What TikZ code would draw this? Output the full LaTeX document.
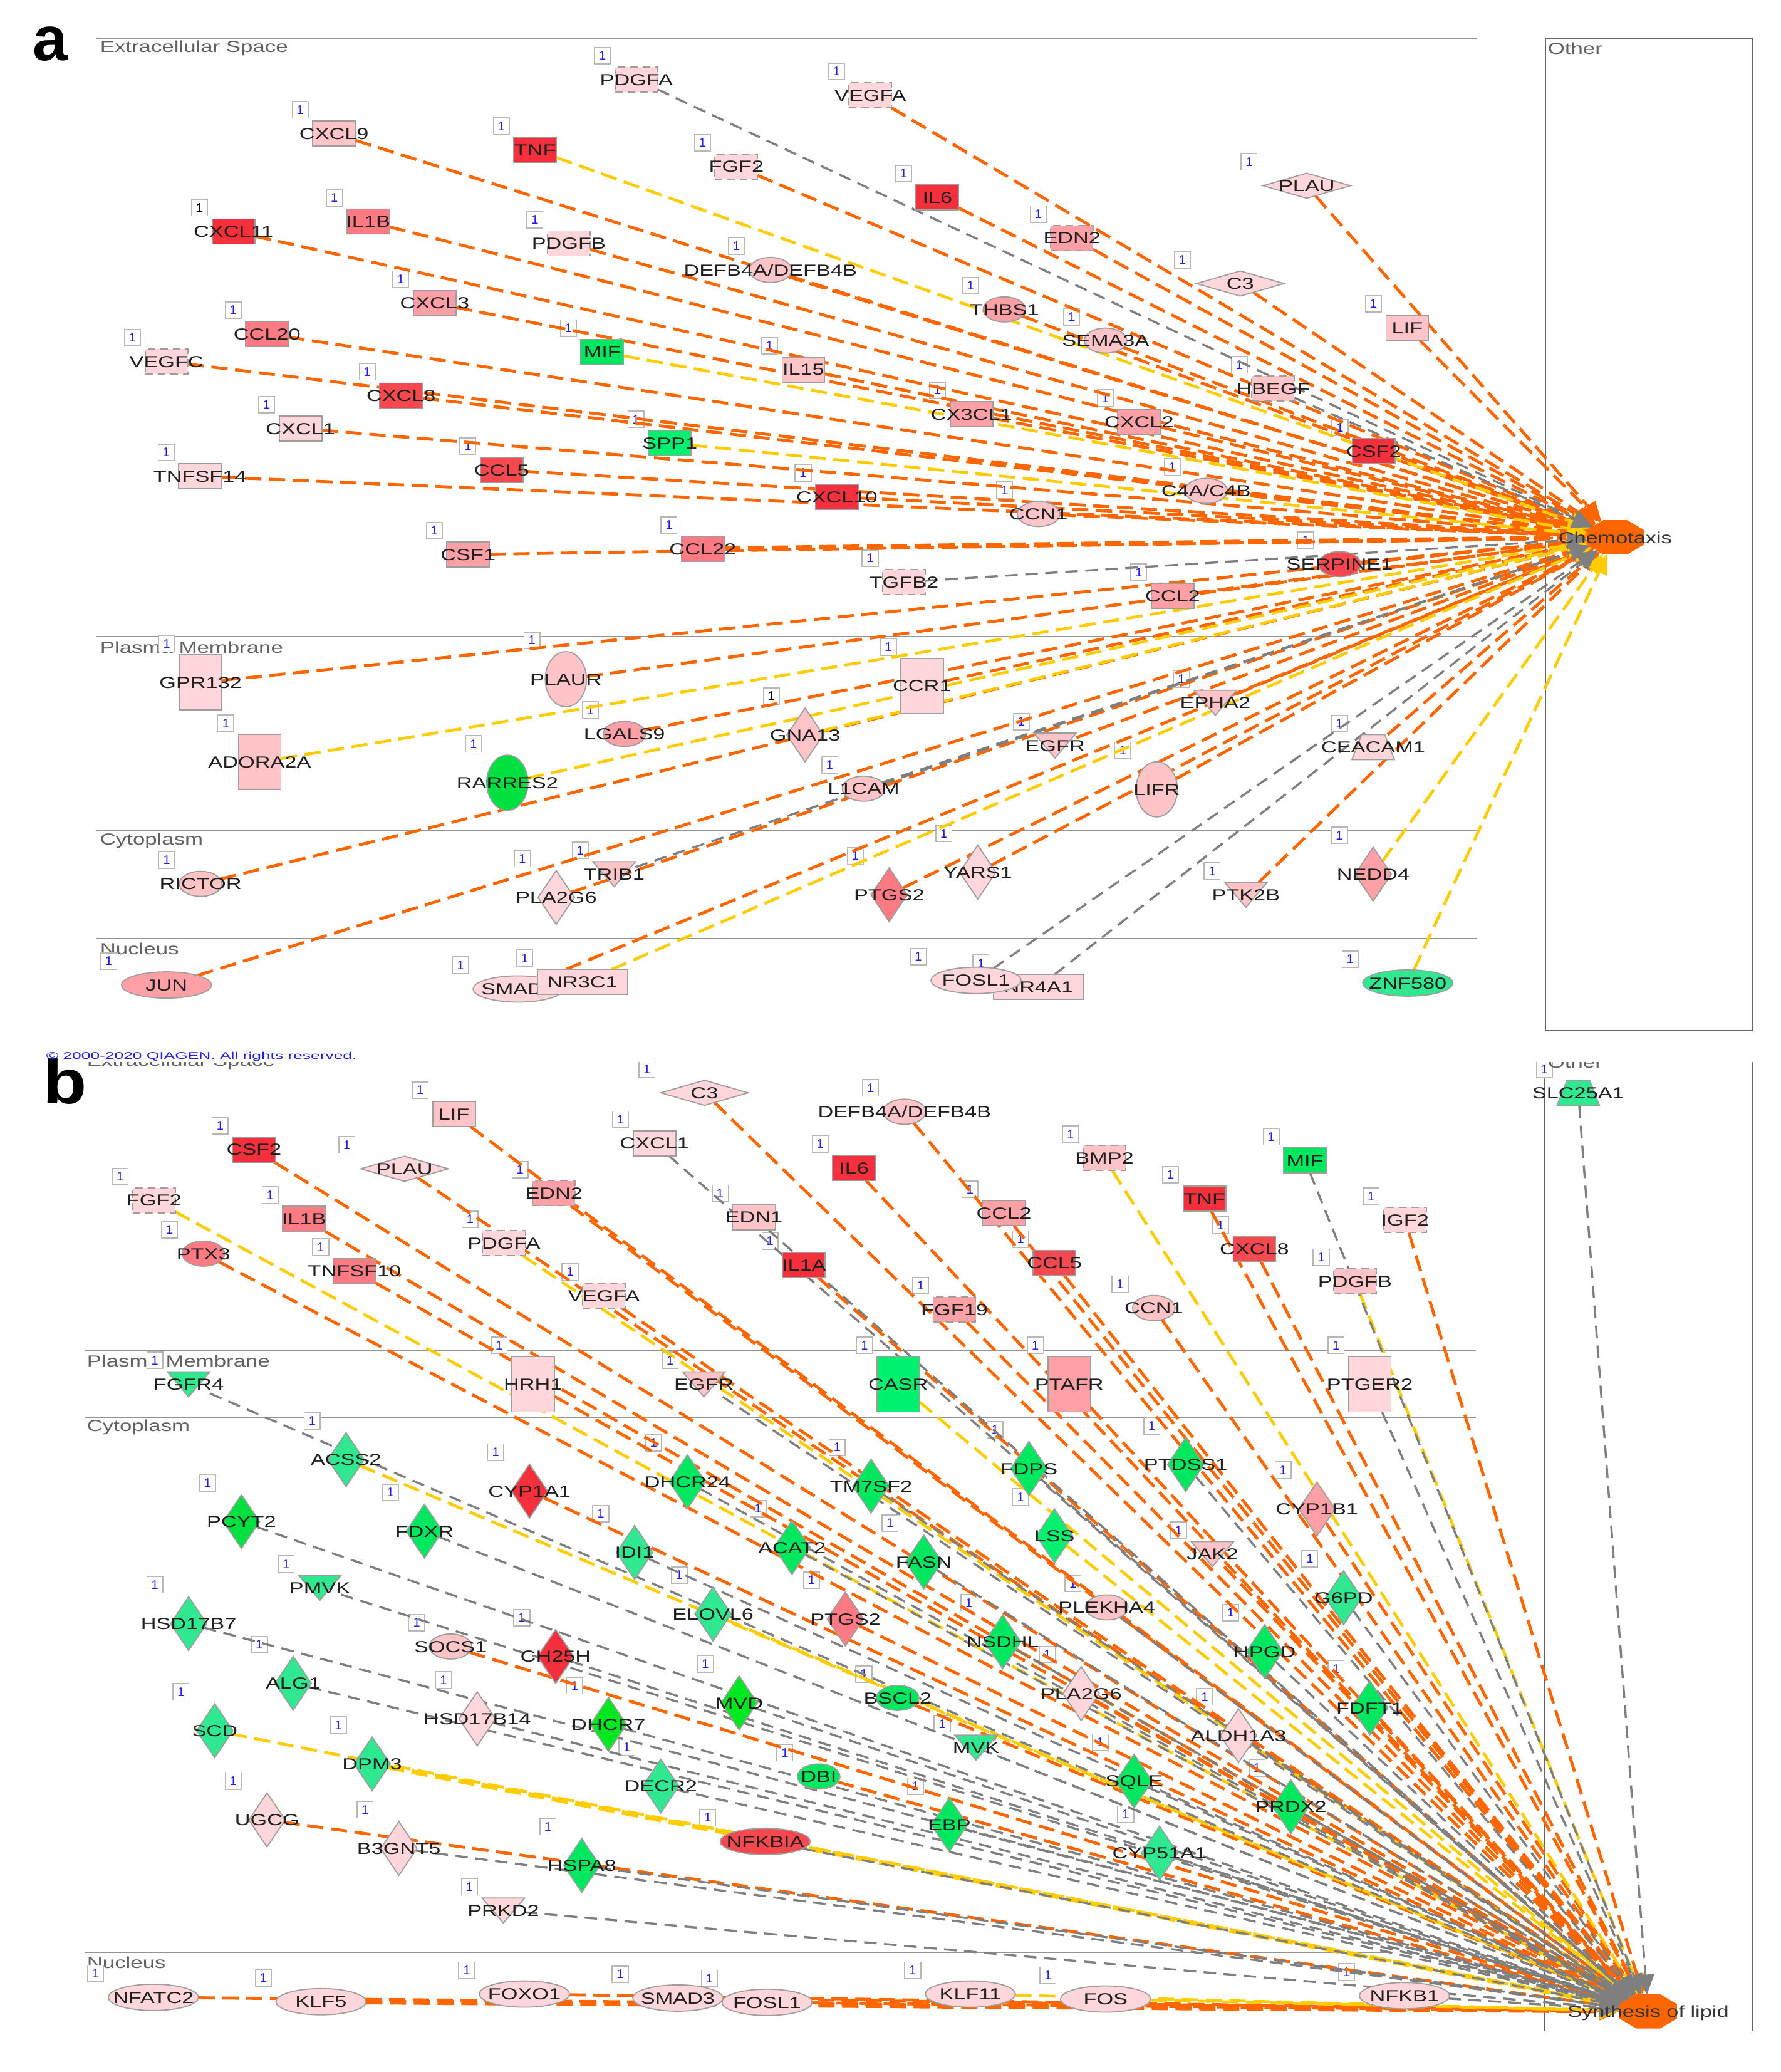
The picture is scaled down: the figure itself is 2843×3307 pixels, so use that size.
\documentclass[tikz,border=0pt]{standalone}
\usepackage{fontspec}
\usepackage{graphicx}
\setmainfont{Liberation Sans}
\usetikzlibrary{arrows.meta,shapes.geometric,calc}
\pgfdeclarelayer{paper}\pgfdeclarelayer{flags}\pgfdeclarelayer{edges}\pgfdeclarelayer{shapes}
\pgfsetlayers{paper,flags,edges,shapes,main}
\definecolor{pka}{HTML}{FFD6DA}\definecolor{pkb}{HTML}{FFC4C8}\definecolor{pkc}{HTML}{FFA0A6}
\definecolor{pkd}{HTML}{FF7A82}\definecolor{rda}{HTML}{F8484F}\definecolor{rdb}{HTML}{F5303C}
\definecolor{gra}{HTML}{00F070}\definecolor{grb}{HTML}{00E040}\definecolor{grc}{HTML}{30E890}
\definecolor{grd}{HTML}{00E860}\definecolor{gre}{HTML}{00E820}
\definecolor{edgeo}{HTML}{FF6600}\definecolor{edgey}{HTML}{FFCC00}\definecolor{edgeg}{HTML}{7F7F7F}
\definecolor{flagblue}{HTML}{2020E0}
\newcommand\lab[1]{\smash{\makebox[0pt]{\raisebox{-2.3pt}{\scalebox{1.34}[1]{#1}}}}}
\newcommand\sct[1]{\scalebox{1.36}[1]{#1}}
% half sizes in reference pixels, used to seat the flag box of each node
\def\hwgsq{34}\def\hhgsq{20}\def\hwgsqd{34}\def\hhgsqd{20}
\def\hwgtr{34}\def\hhgtr{44}\def\hwgwr{72}\def\hhgwr{20}
\def\hwgdia{34}\def\hhgdia{44}\def\hwgfdia{72}\def\hhgfdia{20}
\def\hwgcir{34}\def\hhgcir{20}\def\hwgtel{34}\def\hhgtel{44}
\def\hwgwel{72}\def\hhgwel{20}\def\hwginv{34}\def\hhginv{20}
\tikzset{
 gline/.style={draw=black!38,line width=.45pt},
 gbase/.style={gline,inner sep=0pt,outer sep=0pt,font=\fontsize{6.4}{7}\selectfont,text=black!88},
 gsq/.style={gbase,rectangle,minimum width=17pt,minimum height=10pt},
 gsqd/.style={gsq,densely dashed},
 gtr/.style={gbase,rectangle,minimum width=17pt,minimum height=22pt},
 gwr/.style={gbase,rectangle,minimum width=36pt,minimum height=10pt},
 gdia/.style={gbase,diamond,minimum width=14.5pt,minimum height=21.5pt},
 gfdia/.style={gbase,diamond,minimum width=35pt,minimum height=10pt},
 gcir/.style={gbase,ellipse,minimum width=17pt,minimum height=10pt},
 gtel/.style={gbase,ellipse,minimum width=16.5pt,minimum height=22pt},
 gwel/.style={gbase,ellipse,minimum width=36pt,minimum height=10.5pt},
 ginv/.style={inner sep=0pt,outer sep=0pt,rectangle,minimum width=17pt,minimum height=10pt,font=\fontsize{6.4}{7}\selectfont,text=black!88},
 flagbox/.style={draw=black!28,fill=white,line width=.4pt,rectangle,inner sep=0pt,minimum width=6.4pt,minimum height=6.6pt,font=\fontsize{5}{5.5}\selectfont},
 eo/.style={draw=edgeo,line width=1.2pt,dash pattern=on 6.5pt off 3pt,-{Triangle[length=8pt,width=7pt]}},
 eot/.style={eo,line width=1.9pt},
 ey/.style={draw=edgey,line width=1.15pt,dash pattern=on 6.5pt off 3pt,-{Triangle[length=8pt,width=7pt]}},
 eyt/.style={ey,line width=1.9pt},
 eg/.style={draw=edgeg,line width=.85pt,dash pattern=on 5pt off 3pt,-{Triangle[length=8pt,width=7pt]}},
 hline/.style={draw=black!42,line width=.55pt},
 vline/.style={draw=black!60,line width=.4pt},
 sect/.style={anchor=west,inner sep=0pt,text=black!62,font=\fontsize{6.4}{7}\selectfont},
 zone/.style={x=.22673pt,y=-.13232pt},
 octa/.style={regular polygon,regular polygon sides=8,minimum size=14.4pt,inner sep=0pt,outer sep=0pt,xscale=1.7,transform shape,fill=edgeo,draw=edgeo},
 biglab/.style={inner sep=0pt,text=black,font=\fontsize{25}{26}\selectfont\bfseries},
}
\newcommand\gene[7][flagblue]{%
 \node[#3,fill=#6] (#2) at (#4,#5) {\lab{#7}};
 \begin{pgfonlayer}{flags}
 \node[flagbox,text=#1] (f#2) at ([xshift={-(\csname hw#3\endcsname+20)*.25pt},yshift={(\csname hh#3\endcsname+18)*.25pt}]#2.center) {1};
 \end{pgfonlayer}}
\newcommand\trig[5]{%
 \gene{#1}{ginv}{#2}{#3}{none}{#5}
 \begin{pgfonlayer}{shapes}
 \filldraw[gline,fill=#4] (#1.north west) -- (#1.north east) -- (#1.south) -- cycle;
 \end{pgfonlayer}}
\newcommand\trap[5]{%
 \gene{#1}{ginv}{#2}{#3}{none}{#5}
 \begin{pgfonlayer}{shapes}
 \filldraw[gline,fill=#4] ($(#1.north west)!.23!(#1.north east)$) -- ($(#1.north west)!.77!(#1.north east)$) -- (#1.south east) -- (#1.south west) -- cycle;
 \end{pgfonlayer}}
\begin{document}
\begin{tikzpicture}[x=.25pt,y=-.25pt]
\useasboundingbox (0,0) rectangle (2843,3307);
\begin{pgfonlayer}{paper}
\fill[white] (0,0) rectangle (2843,3307);
% ---------- panel a frame
\coordinate (la1) at (154,61);\coordinate (lb1) at (2358,61);
\coordinate (la2) at (154,1016);\coordinate (lb2) at (2358,1016);
\coordinate (la3) at (154,1326);\coordinate (lb3) at (2358,1326);
\coordinate (la4) at (154,1498);\coordinate (lb4) at (2358,1498);
\draw[hline] (la1) -- (lb1);\draw[hline] (la2) -- (lb2);\draw[hline] (la3) -- (lb3);\draw[hline] (la4) -- (lb4);
\draw[vline] (2467,61) rectangle (2798,1645);
\node[sect] (sa1) at (159,77) {\sct{Extracellular Space}};
\node[sect] (sa2) at (159,1033) {\sct{Plasma Membrane}};
\node[sect] (sa3) at (159,1342) {\sct{Cytoplasm}};
\node[sect] (sa4) at (159,1514) {\sct{Nucleus}};
\node[sect] (sa5) at (2470,77) {\sct{Other}};
% ---------- panel b frame
\coordinate (lc2) at (136,2156);\coordinate (ld2) at (2356,2156);
\coordinate (lc3) at (136,2262);\coordinate (ld3) at (2356,2262);
\coordinate (lc4) at (136,3116);\coordinate (ld4) at (2220,3116);
\draw[hline] (lc2) -- (ld2);\draw[hline] (lc3) -- (ld3);\draw[hline] (lc4) -- (ld4);
\coordinate (va) at (2465,1680);\coordinate (vb) at (2465,3242);
\coordinate (vc) at (2798,1680);\coordinate (vd) at (2798,3242);
\draw[vline] (va) -- (vb);\draw[vline] (vc) -- (vd);
\node[sect] (sb2) at (138,2172) {\sct{Plasma Membrane}};
\node[sect] (sb3) at (138,2278) {\sct{Cytoplasm}};
\node[sect] (sb4) at (138,3132) {\sct{Nucleus}};
\end{pgfonlayer}
% ---------- panel a nodes
\begin{scope}[zone]
\gene{aPDGFA}{gsqd}{1120}{240}{pka}{PDGFA}
\gene{aCXCL9}{gsq}{588}{403}{pkb}{CXCL9}
\gene{aTNF}{gsq}{942}{452}{rdb}{TNF}
\gene{aFGF2}{gsqd}{1296}{502}{pka}{FGF2}
\gene[black]{aCXCL11}{gsq}{411}{698}{rdb}{CXCL11}
\gene{aIL1B}{gsq}{648}{668}{pkd}{IL1B}
\gene{aPDGFB}{gsqd}{1001}{734}{pka}{PDGFB}
\gene{aDEFB}{gcir}{1356}{814}{pkb}{DEFB4A/DEFB4B}
\gene{aCXCL3}{gsq}{765}{914}{pkc}{CXCL3}
\gene{aCCL20}{gsq}{470}{1007}{pkd}{CCL20}
\gene{aMIF}{gsq}{1060}{1061}{grd}{MIF}
\gene{aIL15}{gsq}{1414}{1114}{pkb}{IL15}
\gene{aVEGFC}{gsqd}{293}{1090}{pka}{VEGFC}
\gene{aCXCL8}{gsq}{706}{1193}{rda}{CXCL8}
\gene{aCXCL1}{gsq}{529}{1292}{pka}{CXCL1}
\gene{aSPP1}{gsq}{1179}{1336}{gra}{SPP1}
\gene{aCCL5}{gsq}{883}{1417}{rda}{CCL5}
\gene{aTNFSF14}{gsq}{352}{1436}{pka}{TNFSF14}
\gene{aCXCL10}{gsq}{1473}{1498}{rdb}{CXCL10}
\end{scope}
\begin{scope}[xshift=355.5pt,zone]
\gene{aVEGFA}{gsqd}{-36}{287}{pka}{VEGFA}
\gene{aIL6}{gsq}{82}{595}{rdb}{IL6}
\gene{aEDN2}{gsqd}{319}{717}{pkc}{EDN2}
\gene{aPLAU}{gfdia}{732}{560}{pka}{PLAU}
\gene{aC3}{gfdia}{615}{855}{pka}{C3}
\gene{aTHBS1}{gcir}{200}{933}{pkc}{THBS1}
\gene{aSEMA}{gcir}{378}{1027}{pkb}{SEMA3A}
\gene{aLIF}{gsq}{909}{988}{pkb}{LIF}
\gene{aHBEGF}{gsqd}{673}{1172}{pkb}{HBEGF}
\gene{aCX3CL1}{gsq}{142}{1249}{pkc}{CX3CL1}
\gene{aCXCL2}{gsq}{437}{1272}{pkc}{CXCL2}
\gene{aCSF2}{gsq}{850}{1361}{rdb}{CSF2}
\gene{aC4A}{gcir}{555}{1480}{pkb}{C4A/C4B}
\gene{aCCN1}{gcir}{260}{1550}{pkb}{CCN1}
\end{scope}
\begin{scope}[yshift=-207.5pt,zone]
\gene{aCSF1}{gsq}{824}{104}{pkc}{CSF1}
\gene{aCCL22}{gsq}{1237}{87}{pkd}{CCL22}
\gene{aTGFB2}{gsqd}{1591}{187}{pka}{TGFB2}
\gene{aGPR132}{gtr}{353}{490}{pka}{GPR132}
\gene{aPLAUR}{gtel}{996}{480}{pkb}{PLAUR}
\gene{aADORA2A}{gtr}{457}{730}{pkb}{ADORA2A}
\gene{aLGALS9}{gcir}{1099}{645}{pkc}{LGALS9}
\gene[black]{aGNA13}{gdia}{1417}{648}{pkb}{GNA13}
\gene{aRARRES2}{gtel}{893}{792}{grb}{RARRES2}
\gene{aL1CAM}{gcir}{1520}{810}{pkb}{L1CAM}
\gene{aRICTOR}{gcir}{353}{1097}{pkb}{RICTOR}
\trig{aTRIB1}{1081}{1068}{pkb}{TRIB1}
\gene{aPLA2G6}{gdia}{979}{1138}{pka}{PLA2G6}
\gene{aPTGS2}{gdia}{1565}{1130}{pkd}{PTGS2}
\gene{aJUN}{gwel}{293}{1402}{pkc}{JUN}
\gene{aSMAD3}{gwel}{912}{1414}{pka}{SMAD3}
\gene{aNR3C1}{gwr}{1025}{1393}{pka}{NR3C1}
\end{scope}
\begin{scope}[xshift=355.5pt,yshift=-207.5pt,zone]
\node[octa] (chem) at (1275,52) {};
\node[inner sep=0pt,font=\fontsize{6.4}{7}\selectfont,text=black!80] (chemlab) at (1275,54) {\lab{Chemotaxis}};
\gene{aSERPINE1}{gcir}{790}{133}{rda}{SERPINE1}
\gene{aCCL2}{gsq}{496}{229}{pkc}{CCL2}
\gene{aCCR1}{gtr}{55}{500}{pka}{CCR1}
\trig{aEPHA2}{571}{551}{pkb}{EPHA2}
\trig{aEGFR}{289}{680}{pkb}{EGFR}
\trap{aCEACAM1}{849}{685}{pka}{CEACAM1}
\gene{aLIFR}{gtel}{468}{812}{pkb}{LIFR}
\gene{aYARS1}{gdia}{153}{1062}{pka}{YARS1}
\gene{aNEDD4}{gdia}{849}{1068}{pkc}{NEDD4}
\trig{aPTK2B}{625}{1130}{pkb}{PTK2B}
\gene{aNR4A1}{gwr}{260}{1408}{pka}{NR4A1}
\gene{aFOSL1}{gwel}{150}{1388}{pka}{FOSL1}
\gene{aZNF580}{gwel}{910}{1396}{grc}{ZNF580}
\end{scope}
\begin{pgfonlayer}{edges}
\foreach \n in {aCXCL9,aFGF2,aVEGFA,aIL6,aEDN2,aPLAU,aC3,aLIF,aDEFB,aPDGFB,aIL1B,aCXCL11,aCXCL3,aCCL20,aIL15,aVEGFC,aCXCL8,aCXCL1,aCCL5,aTNFSF14,aCXCL10,aCSF1,aTHBS1,aSEMA,aCX3CL1,aCXCL2,aCSF2,aC4A,aCCN1,aSERPINE1,aCCL2,aGPR132,aPLAUR,aLGALS9,aCCR1,aRICTOR,aJUN,aPLA2G6,aSMAD3,aPTGS2,aYARS1,aLIFR,aEGFR,aEPHA2,aPTK2B,aCEACAM1}
 \draw[eo] (\n) -- (chem);
\draw[eot] (aCCL22) -- (chem);
\foreach \n in {aTNF,aMIF,aSPP1,aADORA2A,aRARRES2,aGNA13,aNR3C1,aNEDD4,aZNF580}
 \draw[ey] (\n) -- (chem);
\foreach \n in {aPDGFA,aHBEGF,aTGFB2,aTRIB1,aL1CAM,aFOSL1,aNR4A1}
 \draw[eg] (\n) -- (chem);
\end{pgfonlayer}
% ---------- panel b nodes
\begin{scope}[yshift=-415pt,zone]
\gene{bC3}{gfdia}{1240}{159}{pka}{C3}
\gene{bLIF}{gsq}{799}{223}{pkb}{LIF}
\gene{bCXCL1}{gsq}{1152}{311}{pka}{CXCL1}
\gene{bCSF2}{gsq}{447}{330}{rdb}{CSF2}
\gene{bPLAU}{gfdia}{712}{388}{pka}{PLAU}
\gene{bIL6}{gsq}{1503}{385}{rdb}{IL6}
\gene{bEDN2}{gsqd}{975}{462}{pkc}{EDN2}
\gene{bFGF2}{gsqd}{271}{483}{pka}{FGF2}
\gene{bEDN1}{gsq}{1327}{534}{pkb}{EDN1}
\gene{bIL1B}{gsq}{535}{539}{pkd}{IL1B}
\gene{bPDGFA}{gsqd}{887}{612}{pka}{PDGFA}
\gene{bPTX3}{gcir}{358}{644}{pkd}{PTX3}
\gene{bIL1A}{gsq}{1415}{678}{rdb}{IL1A}
\gene{bTNFSF10}{gsq}{624}{696}{pkd}{TNFSF10}
\gene{bVEGFA}{gsqd}{1063}{771}{pka}{VEGFA}
\gene{bHRH1}{gtr}{938}{1038}{pka}{HRH1}
\trig{bEGFR}{1239}{1038}{pkb}{EGFR}
\trig{bFGFR4}{332}{1038}{grc}{FGFR4}
\gene{bCASR}{gtr}{1581}{1038}{gra}{CASR}
\gene{bACSS2}{gdia}{609}{1265}{grc}{ACSS2}
\gene{bCYP1A1}{gdia}{932}{1360}{rdb}{CYP1A1}
\gene{bDHCR24}{gdia}{1210}{1332}{grd}{DHCR24}
\gene{bTM7SF2}{gdia}{1533}{1345}{grd}{TM7SF2}
\gene{bPCYT2}{gdia}{425}{1452}{grb}{PCYT2}
\gene{bFDXR}{gdia}{747}{1481}{grd}{FDXR}
\gene{bIDI1}{gdia}{1117}{1545}{grc}{IDI1}
\gene{bACAT2}{gdia}{1394}{1530}{grd}{ACAT2}
\end{scope}
\begin{scope}[xshift=355.5pt,yshift=-415pt,zone]
\gene{bDEFB}{gcir}{24}{216}{pkb}{DEFB4A/DEFB4B}
\trap{bSLC}{1210}{160}{grc}{SLC25A1}
\gene{bBMP2}{gsqd}{376}{356}{pkb}{BMP2}
\gene{bMIF}{gsq}{729}{363}{grd}{MIF}
\gene{bTNF}{gsq}{552}{478}{rdb}{TNF}
\gene{bCCL2}{gsq}{199}{522}{pkc}{CCL2}
\gene{bIGF2}{gsqd}{905}{543}{pka}{IGF2}
\gene{bCXCL8}{gsq}{640}{630}{rda}{CXCL8}
\gene{bCCL5}{gsq}{288}{672}{rda}{CCL5}
\gene{bPDGFB}{gsqd}{817}{727}{pkb}{PDGFB}
\gene{bCCN1}{gcir}{463}{808}{pkb}{CCN1}
\gene{bFGF19}{gsqd}{112}{812}{pkc}{FGF19}
\gene{bPTAFR}{gtr}{314}{1038}{pkc}{PTAFR}
\gene{bPTGER2}{gtr}{843}{1038}{pka}{PTGER2}
\gene{bFDPS}{gdia}{243}{1292}{grd}{FDPS}
\gene{bPTDSS1}{gdia}{519}{1280}{grd}{PTDSS1}
\gene{bCYP1B1}{gdia}{750}{1414}{pkc}{CYP1B1}
\gene{bLSS}{gdia}{288}{1495}{gra}{LSS}
\trig{bJAK2}{566}{1550}{pkb}{JAK2}
\end{scope}
\begin{scope}[yshift=-619.25pt,zone]
\trig{bPMVK}{563}{108}{grc}{PMVK}
\gene{bHSD17B7}{gdia}{332}{216}{grc}{HSD17B7}
\gene{bELOVL6}{gdia}{1255}{187}{grc}{ELOVL6}
\gene{bPTGS2}{gdia}{1488}{202}{pkd}{PTGS2}
\gene{bSOCS1}{gcir}{793}{285}{pkb}{SOCS1}
\gene{bCH25H}{gdia}{978}{315}{rdb}{CH25H}
\gene{bALG1}{gdia}{516}{396}{grc}{ALG1}
\gene{bMVD}{gdia}{1301}{455}{gre}{MVD}
\gene{bHSD17B14}{gdia}{840}{503}{pka}{HSD17B14}
\gene{bDHCR7}{gdia}{1071}{520}{gre}{DHCR7}
\gene{bSCD}{gdia}{378}{539}{grc}{SCD}
\gene{bDPM3}{gdia}{655}{639}{grc}{DPM3}
\gene{bDBI}{gcir}{1441}{677}{grd}{DBI}
\gene{bDECR2}{gdia}{1163}{706}{grc}{DECR2}
\gene{bUGCG}{gdia}{470}{808}{pka}{UGCG}
\gene{bNFKBIA}{gwel}{1347}{873}{rda}{NFKBIA}
\gene{bB3GNT5}{gdia}{702}{894}{pka}{B3GNT5}
\gene{bHSPA8}{gdia}{1024}{945}{grd}{HSPA8}
\trig{bPRKD2}{886}{1081}{pka}{PRKD2}
\gene{bNFATC2}{gwel}{270}{1343}{pka}{NFATC2}
\gene{bKLF5}{gwel}{565}{1356}{pka}{KLF5}
\gene{bFOXO1}{gwel}{923}{1333}{pka}{FOXO1}
\gene{bSMAD3}{gwel}{1193}{1345}{pka}{SMAD3}
\gene{bFOSL1}{gwel}{1350}{1358}{pka}{FOSL1}
\end{scope}
\begin{scope}[xshift=355.5pt,yshift=-619.25pt,zone]
\gene{bFASN}{gdia}{58}{30}{grd}{FASN}
\gene{bG6PD}{gdia}{797}{138}{grc}{G6PD}
\gene{bPLEKHA4}{gcir}{380}{167}{pkb}{PLEKHA4}
\gene{bNSDHL}{gdia}{197}{271}{grd}{NSDHL}
\gene{bHPGD}{gdia}{658}{300}{grd}{HPGD}
\gene{bBSCL2}{gcir}{12}{440}{grd}{BSCL2}
\gene{bPLA2G6}{gdia}{335}{427}{pka}{PLA2G6}
\gene{bFDFT1}{gdia}{843}{470}{grd}{FDFT1}
\gene{bALDH1A3}{gdia}{612}{554}{pka}{ALDH1A3}
\trig{bMVK}{150}{590}{grc}{MVK}
\gene{bSQLE}{gdia}{428}{691}{grd}{SQLE}
\gene{bPRDX2}{gdia}{704}{768}{grd}{PRDX2}
\gene{bEBP}{gdia}{103}{823}{grd}{EBP}
\gene{bCYP51A1}{gdia}{473}{908}{grc}{CYP51A1}
\gene{bKLF11}{gwel}{140}{1333}{pka}{KLF11}
\gene{bFOS}{gwel}{378}{1348}{pka}{FOS}
\gene{bNFKB1}{gwel}{904}{1338}{pka}{NFKB1}
\node[octa] (lipid) at (1333,1385) {};
\node[inner sep=0pt,font=\fontsize{6.4}{7}\selectfont,text=black!80] (lipidlab) at (1333,1385) {\lab{Synthesis of lipid}};
\end{scope}
\begin{pgfonlayer}{edges}
\foreach \n in {bC3,bLIF,bCSF2,bPLAU,bIL6,bEDN2,bIL1B,bPTX3,bIL1A,bTNFSF10,bVEGFA,bDEFB,bCCL2,bCCL5,bTNF,bCXCL8,bIGF2,bCCN1,bFGF19,bPTAFR,bCYP1A1,bSOCS1,bDBI,bUGCG,bNFATC2,bFOXO1,bSMAD3,bFOSL1,bPTGS2,bJAK2,bCYP1B1,bHRH1,bBSCL2,bPLA2G6,bFDFT1}
 \draw[eo] (\n) -- (lipid);
\draw[eot] (bKLF5) -- (lipid);
\foreach \n in {bFGF2,bPDGFA,bBMP2,bPDGFB,bCASR,bACSS2,bSCD,bELOVL6,bKLF11,bFOS,bLSS}
 \draw[ey] (\n) -- (lipid);
\draw[eyt] (bDPM3) -- (lipid);
\foreach \n in {bCXCL1,bEDN1,bMIF,bSLC,bPTGER2,bFGFR4,bPCYT2,bFDXR,bPMVK,bHSD17B7,bALG1,bHSD17B14,bDHCR7,bMVD,bDECR2,bB3GNT5,bHSPA8,bPRKD2,bNFKB1,bNFKBIA,bIDI1,bDHCR24,bTM7SF2,bACAT2,bFDPS,bPTDSS1,bFASN,bNSDHL,bHPGD,bG6PD,bSQLE,bPRDX2,bEBP,bCYP51A1,bMVK,bPLEKHA4,bALDH1A3,bEGFR,bCH25H}
 \draw[eg] (\n) -- (lipid);
\end{pgfonlayer}
% ---------- panel b titles cut by the strip above the panel
\node[sect] (sb1) at (138,1695) {\sct{Extracellular Space}};
\node[sect] (sb5) at (2470,1695) {\sct{Other}};
\fill[white] (0,1650) rectangle (2843,1695);
% ---------- panel letters and copyright
\node[biglab] (pa) at (80,70) {a};
\node[biglab] (pb) at (104,1726) {\scalebox{1.15}[1]{b}};
\node[anchor=west,inner sep=0pt,text=flagblue,font=\fontsize{3.9}{4}\selectfont] (copy) at (73,1686) {\scalebox{1.69}[1]{© 2000-2020 QIAGEN. All rights reserved.}};
\end{tikzpicture}
\end{document}
